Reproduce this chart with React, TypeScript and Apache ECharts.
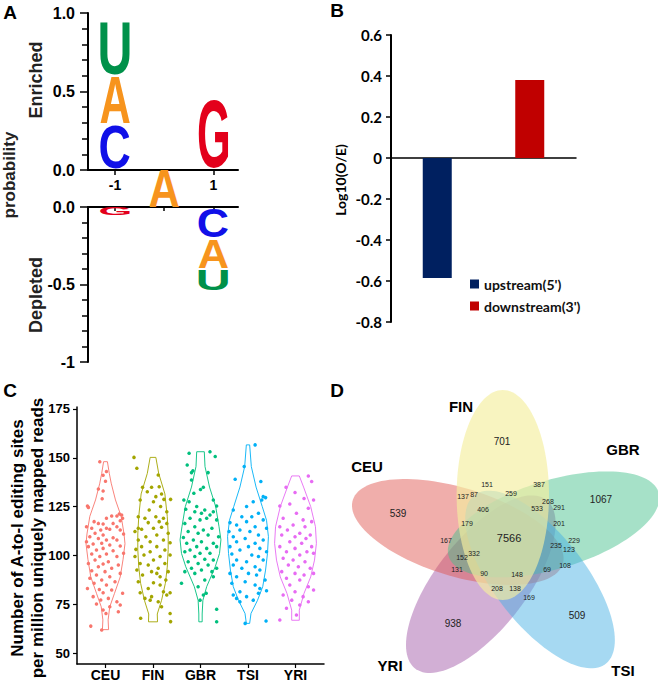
import React, { useEffect, useRef } from "react";
import * as echarts from "echarts";

// ---------------- Panel A : sequence logo ----------------
const LOGO_UP_POS = [-1, -1, -1, 1];
const LOGO_UP_LETTER = ["C", "A", "U", "G"];
const LOGO_UP_HEIGHT = [0.29, 0.31, 0.35, 0.46];
const LOGO_DOWN_POS = [-1, 1, 1, 1];
const LOGO_DOWN_LETTER = ["G", "C", "A", "U"];
const LOGO_DOWN_HEIGHT = [0.055, 0.2, 0.2, 0.14];
const LOGO_SITE_POS = 0;
const LOGO_SITE_LETTER = "A";
const LOGO_SITE_HEIGHT = 0.236;
const LOGO_X_TICKS = [-1, 1];
const LETTER_COLORS: Record<string, string> = { A: "#F7941D", C: "#1010E8", G: "#E3001B", U: "#00914A" };

// ---------------- Panel B : bars ----------------
const B_CATEGORIES = ["upstream(5')", "downstream(3')"];
const B_POSITIONS = [0.5, 1.5];
const B_VALUES = [-0.585, 0.38];
const B_COLORS = ["#002060", "#C00000"];
const B_Y_RANGE = [-0.8, 0.6];

// ---------------- Panel C : violins + jitter ----------------
const GROUPS = ["CEU", "FIN", "GBR", "TSI", "YRI"];
const GROUP_COLORS = ["#F8766D", "#A3A500", "#00BF7D", "#00B0F6", "#E76BF3"];
const C_Y_TICKS = [50, 75, 100, 125, 150, 175];

// [jitter (category units), value]
const CEU_POINTS = [
  [-0.12, 148], [0.02, 143], [-0.05, 141], [0, 138], [-0.15, 134], [-0.05, 133], [-0.07, 129], [-0.38, 125.3],
  [-0.36, 124.6], [0.29, 121.2], [0.34, 120.7], [0.24, 120.2], [0.13, 120.2], [0.36, 119], [0.02, 119], [0.31, 117.8],
  [-0.15, 116.4], [-0.24, 117.3], [-0.05, 116.1], [0.16, 116.4], [-0.4, 114.7], [0.02, 113.9], [0.24, 114.7], [-0.29, 113.9],
  [-0.1, 113], [0.09, 113.4], [0.31, 113], [-0.22, 111.3], [-0.05, 110.5], [0.38, 111], [-0.33, 109.6], [-0.15, 108.7],
  [0.16, 109.1], [0.02, 107.9], [-0.4, 107], [0.24, 107.9], [-0.08, 106.2], [-0.26, 105.8], [0.09, 105.3], [0.31, 104.8],
  [-0.36, 104.5], [-0.05, 103.6], [-0.19, 102.8], [0.16, 102.4], [0.38, 101.1], [-0.29, 100.7], [0.02, 100.7], [-0.12, 99.4],
  [0.24, 99.4], [-0.22, 97.6], [0.06, 96.8], [-0.36, 95.9], [-0.05, 95.6], [0.27, 95.1], [-0.15, 94.2], [0.13, 93.4],
  [-0.29, 92.2], [-0.01, 91.7], [0.31, 90.8], [-0.19, 90], [0.09, 89.1], [-0.33, 88.3], [-0.08, 87.4], [0.2, 86.5],
  [-0.24, 85.7], [0.02, 84.8], [-0.38, 83.1], [-0.13, 82.6], [0.13, 82.3], [-0.05, 80.9], [0.36, 80.6], [-0.26, 78.9],
  [0.06, 78], [-0.1, 77.2], [0.24, 76.3], [-0.19, 75.1], [0.31, 74.6], [0.09, 73.7], [-0.05, 72], [0.27, 71.2],
  [0.01, 70.3], [-0.31, 63.8], [-0.08, 61.8],
];
const FIN_POINTS = [
  [-0.4, 150.2], [-0.34, 144.6], [0.11, 141.2], [-0.22, 134.9], [-0.03, 134.9], [0.13, 135.2], [-0.12, 132.6], [0.18, 131.5],
  [0.06, 130.1], [0.23, 128.7], [-0.27, 128.4], [0.01, 127.5], [0.37, 128.7], [0.16, 125], [-0.08, 123.3], [0.29, 122.4],
  [-0.31, 119.8], [0.06, 119.8], [-0.17, 119], [0.22, 119], [0.13, 117.3], [-0.1, 116.8], [0.29, 116.4], [-0.31, 113.9],
  [-0.24, 113.4], [0.01, 113.9], [0.18, 114.4], [-0.38, 112.2], [0.32, 111.3], [0.08, 110.5], [-0.15, 109.6], [-0.31, 107.9],
  [0.22, 107.9], [-0.06, 107], [0.36, 106.5], [-0.24, 104.5], [0.08, 104.5], [-0.36, 103.1], [0.25, 102.8], [-0.06, 101.9],
  [-0.19, 100.2], [0.15, 99.4], [-0.38, 99.4], [0.36, 100.2], [0.01, 97.6], [-0.27, 95.9], [0.25, 95.9], [-0.1, 95.1],
  [0.11, 93.4], [-0.34, 92.5], [0.32, 91.7], [-0.03, 91.7], [0.08, 90.8], [-0.22, 90], [0.15, 89.1], [0.27, 87.4],
  [-0.31, 86.5], [0.01, 86], [0.15, 84.8], [-0.1, 83.1], [0.22, 81.4], [0.36, 80.9], [-0.27, 80.9], [-0.03, 78.9],
  [0.29, 79.7], [-0.17, 78], [0.11, 76.3], [-0.06, 77.1], [0.18, 73.7], [0.36, 70.3], [-0.26, 67.8], [0.37, 66.1],
];
const GBR_POINTS = [
  [-0.24, 152.3], [0.2, 153.1], [0.31, 150.6], [-0.28, 146.3], [-0.16, 143.4], [-0.19, 142.4], [0.16, 142.4], [-0.19, 138.6],
  [0.06, 134.9], [0, 133.8], [-0.14, 131.8], [0.27, 128.4], [-0.35, 128.4], [-0.24, 127.5], [0.34, 125.3], [-0.08, 125],
  [0.09, 123.3], [-0.31, 123.6], [0.2, 120.7], [0.02, 121.6], [-0.12, 122.4], [0.27, 122.4], [-0.22, 119], [-0.01, 118.2],
  [0.13, 119], [0.34, 118.2], [-0.33, 116.4], [-0.12, 114.7], [0.06, 113], [0.24, 113.9], [-0.26, 112.2], [-0.05, 111.3],
  [0.16, 110.5], [0.38, 109.6], [-0.36, 109.2], [-0.15, 107.9], [0.02, 107], [0.27, 106.2], [-0.29, 106.2], [-0.08, 104.5],
  [0.13, 103.6], [0.34, 104.5], [-0.22, 102.8], [-0.01, 101.1], [0.2, 101.1], [-0.33, 101.9], [-0.12, 99.4], [0.09, 98],
  [0.27, 97.6], [-0.26, 96.8], [-0.05, 95.9], [0.16, 95.1], [-0.19, 93.4], [0.02, 92.5], [0.34, 93.4], [-0.33, 91.7],
  [-0.12, 90.8], [0.24, 91.7], [-0.4, 85.7], [0.09, 87.4], [-0.05, 84], [0.12, 80.6], [0.27, 89.1], [-0.01, 77.1],
  [0.34, 72.4], [0.34, 66], [0.06, 79.7],
];
const TSI_POINTS = [
  [0.15, 156.6], [-0.08, 145.5], [-0.27, 139], [0.27, 137.8], [0.32, 130.1], [0.37, 129.6], [0.11, 127.5], [-0.03, 125],
  [0.29, 128.4], [-0.31, 123.3], [0.22, 121.6], [0.08, 119.8], [-0.13, 119.8], [0.32, 118.2], [-0.38, 116.8], [-0.24, 115.6],
  [-0.03, 117.3], [0.15, 114.7], [0.39, 113.9], [-0.4, 112.2], [-0.17, 113], [0.04, 112.2], [0.22, 110.5], [-0.31, 109.6],
  [-0.06, 108.7], [0.32, 107.9], [-0.24, 107], [0.15, 106.2], [-0.38, 104.5], [0.01, 104.5], [0.25, 103.6], [-0.17, 102.8],
  [0.39, 101.9], [-0.34, 100.7], [0.08, 100.2], [0.22, 99.4], [-0.24, 97.6], [-0.03, 96.8], [0.32, 97.6], [-0.31, 95.1],
  [0.15, 94.2], [-0.13, 93.4], [0.25, 92.5], [-0.38, 90.8], [0.01, 90.8], [0.18, 90], [-0.24, 89.1], [0.36, 87.4],
  [-0.06, 86.5], [-0.34, 85.7], [0.15, 84.8], [0.25, 83.1], [-0.17, 81.4], [0.39, 81.9], [0.22, 80.6], [-0.03, 78.9],
  [-0.24, 78], [0.11, 77.1], [-0.17, 76.3], [-0.06, 65.2], [0.38, 66.4], [-0.31, 79.7],
];
const YRI_POINTS = [
  [0.27, 140.7], [-0.2, 134.9], [0.34, 137.8], [-0.01, 132.2], [-0.33, 125.3], [0.18, 129.2], [0.38, 128.4], [-0.12, 126.3],
  [0.27, 124.1], [0.02, 121.6], [-0.26, 119], [0.16, 118.2], [0.34, 117.3], [-0.33, 114.7], [-0.05, 115.6], [0.2, 114.7],
  [-0.17, 113], [0.09, 111.3], [0.31, 110.5], [-0.29, 110.5], [-0.01, 109.6], [0.22, 108.7], [-0.12, 107], [0.13, 106.2],
  [0.34, 104.5], [-0.33, 104.5], [-0.01, 103.6], [-0.19, 101.9], [0.24, 101.9], [0.09, 100.2], [0.38, 101.1], [-0.26, 98.5],
  [-0.05, 97.6], [0.2, 96.8], [-0.15, 95.1], [0.06, 94.2], [0.31, 93.4], [-0.29, 91.7], [-0.01, 90.8], [0.18, 90],
  [0.38, 90.8], [-0.19, 88.3], [0.09, 87.4], [-0.12, 84.8], [0.27, 84], [-0.01, 81.4], [-0.26, 79.7], [0.16, 78.9],
  [0.38, 82.3], [-0.08, 77.1], [0.09, 74.6], [-0.19, 72.9], [0.27, 76.3], [-0.33, 66.9], [0.02, 69.5],
];
const GROUP_POINTS = [CEU_POINTS, FIN_POINTS, GBR_POINTS, TSI_POINTS, YRI_POINTS];

// violin outline: [value, half width (category units)], bottom -> top
const CEU_VIOLIN = [[62, 0.065], [67, 0.055], [73.7, 0.09], [80.6, 0.19], [89, 0.31], [98, 0.37], [106, 0.41], [111, 0.39], [120, 0.33], [128.4, 0.21], [137, 0.12], [142, 0.08], [148, 0.04]];
const FIN_VIOLIN = [[66, 0.095], [70, 0.09], [77, 0.18], [85.7, 0.26], [94, 0.3], [103, 0.32], [111, 0.32], [120, 0.3], [131.5, 0.25], [142, 0.12], [150.2, 0.06]];
const GBR_VIOLIN = [[66, 0.035], [70, 0.035], [77, 0.05], [84, 0.13], [94.2, 0.31], [101, 0.4], [108, 0.43], [114.7, 0.39], [125, 0.32], [135, 0.19], [145.5, 0.095], [153.1, 0.08]];
const TSI_VIOLIN = [[65.2, 0.035], [70.3, 0.063], [77, 0.2], [84, 0.31], [92.5, 0.37], [101, 0.41], [109.6, 0.43], [118, 0.39], [125, 0.3], [135, 0.17], [145.5, 0.07], [156.6, 0.035]];
const YRI_VIOLIN = [[66.8, 0.08], [72, 0.08], [80.6, 0.18], [89, 0.32], [97.6, 0.4], [106.2, 0.44], [114.7, 0.42], [125, 0.32], [135, 0.17], [140.7, 0.08]];
const GROUP_VIOLINS = [CEU_VIOLIN, FIN_VIOLIN, GBR_VIOLIN, TSI_VIOLIN, YRI_VIOLIN];

// ---------------- Panel D : 5-set Venn ----------------
const VENN_SETS = ["CEU", "FIN", "GBR", "TSI", "YRI"];
const VENN_FILLS = ["#E0564F", "#F5EFA0", "#45C08D", "#45B0E3", "#A058A8"];
const VENN_ROTATION_DEG = [288, 0, 72, 144, 216];
const VENN_DRAW_ORDER = [4, 0, 2, 3, 1];
const VENN_COUNTS = [
  "701", "1067", "539", "938", "509", "7566", "151", "387", "137", "87", "259", "268", "291", "406", "533", "179",
  "201", "167", "235", "229", "123", "152", "332", "131", "90", "148", "69", "108", "208", "138", "169",
];
// layout (venn-space coordinates of each count label)
const VENN_COUNT_POS = [
  [-4.8, -102], [89.5, -44], [-103.8, -30], [-51.4, 80], [66.7, 72], [1.9, -5], [-19, -59], [30.5, -59], [-41.9, -47],
  [-31.4, -49], [3.8, -50], [39, -42], [49.5, -36], [-22.9, -34], [28.6, -35], [-38.1, -20], [49.5, -20], [-58.1, -3],
  [46.7, 2], [63.8, -3], [59, 6], [-42.9, 14], [-31.4, 10], [-47.6, 26], [-21.9, 30], [9.5, 31], [38.1, 26], [55.2, 22],
  [-9.5, 45], [7.6, 45], [21, 54],
];
const VENN_SET_LABEL_POS = [[-133.3, -77], [-43.8, -137], [110.5, -94], [110.5, 127], [-111.4, 122]];
const VENN_ELLIPSE = { offU: -4, offW: -48, semiU: 44, semiW: 105 };

const SANS = "Liberation Sans";

let measureCtx: CanvasRenderingContext2D | null = null;
const glyphCache: Record<string, any> = {};
function glyph(ch: string) {
  if (glyphCache[ch]) return glyphCache[ch];
  if (!measureCtx) measureCtx = document.createElement("canvas").getContext("2d");
  const ctx = measureCtx as CanvasRenderingContext2D;
  ctx.font = `bold 100px "${SANS}"`;
  const m = ctx.measureText(ch);
  const g = {
    left: m.actualBoundingBoxLeft,
    right: m.actualBoundingBoxRight,
    asc: m.actualBoundingBoxAscent,
    desc: m.actualBoundingBoxDescent,
    fa: (m as any).fontBoundingBoxAscent ?? 90.5,
    fd: (m as any).fontBoundingBoxDescent ?? 21.2,
  };
  glyphCache[ch] = g;
  return g;
}

function letterEl(api: any, ch: string, x0: number, x1: number, yA: number, yB: number, fill: number) {
  const pA = api.coord([x0, yA]);
  const pB = api.coord([x1, yB]);
  const left = Math.min(pA[0], pB[0]);
  const right = Math.max(pA[0], pB[0]);
  const top = Math.min(pA[1], pB[1]);
  const bottom = Math.max(pA[1], pB[1]);
  const h = (bottom - top) * fill;
  const w = right - left;
  const cx = (left + right) / 2;
  const cy = (top + bottom) / 2;
  const g = glyph(ch);
  const sx = w / (g.left + g.right);
  const sy = h / (g.asc + g.desc);
  const inkCx = (g.right - g.left) / 2;
  const central = (g.fa - g.fd) / 2;
  const inkCy = central + (g.desc - g.asc) / 2;
  return {
    type: "text",
    x: cx - sx * inkCx,
    y: cy - sy * inkCy,
    scaleX: sx,
    scaleY: sy,
    style: {
      text: ch,
      x: 0,
      y: 0,
      fill: LETTER_COLORS[ch],
      fontSize: 100,
      fontWeight: "bold",
      fontFamily: SANS,
      align: "left",
      verticalAlign: "middle",
    },
  };
}

function stackLetters(pos: number[], heights: number[], sign: number) {
  const acc: Record<string, number> = {};
  return pos.map((p, i) => {
    const s = acc[p] || 0;
    acc[p] = s + heights[i];
    return [p, sign * s, sign * (s + heights[i])];
  });
}

const LETTER_W = 0.6;

export default function App() {
  const ref = useRef<HTMLDivElement>(null);
  useEffect(() => {
    document.body.style.margin = "0";
    if (!ref.current) return;
    const chart = echarts.init(ref.current, undefined, { renderer: "svg" });

    const upItems = stackLetters(LOGO_UP_POS, LOGO_UP_HEIGHT, 1);
    const upLetters = [...LOGO_UP_LETTER];
    upItems.push([LOGO_SITE_POS, 0, -LOGO_SITE_HEIGHT]);
    upLetters.push(LOGO_SITE_LETTER);
    const downItems = stackLetters(LOGO_DOWN_POS, LOGO_DOWN_HEIGHT, -1);

    const axisBlack = { color: "#000", width: 2 };
    const boldSans = (size: number) => ({ fontFamily: SANS, fontWeight: "bold", fontSize: size, color: "#000" });
    const lato = (size: number) => ({ fontFamily: "Lato", fontWeight: "bold", fontSize: size, color: "#000" });

    const option: any = {
      animation: false,
      textStyle: { fontFamily: SANS },
      grid: [
        { left: 88, top: 13, width: 150, height: 157 },
        { left: 88, top: 207, width: 150, height: 155 },
        { left: 391, top: 35, width: 185, height: 287 },
        { left: 77, top: 407, width: 247, height: 257 },
        { left: 330, top: 330, width: 328, height: 353 },
      ],
      xAxis: [
        {
          gridIndex: 0, type: "value", min: -1.55, max: 1.5,
          axisLine: { onZero: false, lineStyle: axisBlack },
          axisTick: { customValues: LOGO_X_TICKS, length: 5, lineStyle: { color: "#000", width: 1.5 } },
          axisLabel: { customValues: LOGO_X_TICKS, margin: 8, ...boldSans(14) },
          splitLine: { show: false },
        },
        {
          gridIndex: 1, type: "value", min: -1.55, max: 1.5, position: "top",
          axisLine: { onZero: false, lineStyle: axisBlack },
          axisTick: { customValues: [-1, 0, 1], inside: true, length: 4, lineStyle: { color: "#000", width: 1.5 } },
          axisLabel: { show: false },
          splitLine: { show: false },
        },
        {
          gridIndex: 2, type: "value", min: 0, max: 2,
          axisLine: { show: true, onZero: true, lineStyle: { color: "#000", width: 1.5 } },
          axisTick: { show: false }, axisLabel: { show: false }, splitLine: { show: false },
        },
        {
          gridIndex: 3, type: "value", min: 0.4, max: 5.6,
          axisLine: { onZero: false, lineStyle: { color: "#000", width: 1.5 } },
          axisTick: { customValues: [1, 2, 3, 4, 5], length: 4, lineStyle: { color: "#000", width: 1.2 } },
          axisLabel: { customValues: [1, 2, 3, 4, 5], margin: 4, formatter: (v: number) => GROUPS[Math.round(v) - 1], ...boldSans(14) },
          splitLine: { show: false },
        },
        { gridIndex: 4, type: "value", min: -168.6, max: 143.8, show: false, splitLine: { show: false } },
      ],
      yAxis: [
        {
          gridIndex: 0, type: "value", min: 0, max: 1, interval: 0.5,
          axisLine: { show: true, onZero: false, lineStyle: axisBlack },
          axisTick: { show: true, length: 8, lineStyle: { color: "#000", width: 1.5 } },
          minorTick: { show: true, splitNumber: 5, length: 6, lineStyle: { color: "#000", width: 1.5 } },
          axisLabel: { formatter: (v: number) => v.toFixed(1), margin: 13, ...boldSans(16) },
          splitLine: { show: false },
        },
        {
          gridIndex: 1, type: "value", min: -1, max: 0, interval: 0.5,
          axisLine: { show: true, onZero: false, lineStyle: axisBlack },
          axisTick: { show: true, length: 8, lineStyle: { color: "#000", width: 1.5 } },
          minorTick: { show: true, splitNumber: 5, length: 6, lineStyle: { color: "#000", width: 1.5 } },
          axisLabel: { formatter: (v: number) => (v === -1 ? "-1" : v.toFixed(1)), margin: 13, ...boldSans(16) },
          splitLine: { show: false },
        },
        {
          gridIndex: 2, type: "value", min: B_Y_RANGE[0], max: B_Y_RANGE[1], interval: 0.2,
          axisLine: { show: true, onZero: false, lineStyle: { color: "#000", width: 2 } },
          axisTick: { show: true, length: 5, lineStyle: { color: "#000", width: 1.5 } },
          axisLabel: { margin: 9, formatter: (v: number) => String(Math.round(v * 10) / 10), ...lato(15) },
          splitLine: { show: false },
        },
        {
          gridIndex: 3, type: "value", min: 44.4, max: 176,
          axisLine: { show: true, onZero: false, lineStyle: { color: "#000", width: 1.5 } },
          axisTick: { show: true, customValues: C_Y_TICKS, length: 4, lineStyle: { color: "#000", width: 1.2 } },
          axisLabel: { customValues: C_Y_TICKS, margin: 7, ...boldSans(13) },
          splitLine: { show: false },
        },
        { gridIndex: 4, type: "value", min: -213, max: 140, inverse: true, show: false, splitLine: { show: false } },
      ],
      legend: {
        data: B_CATEGORIES,
        orient: "vertical",
        left: 465,
        top: 272,
        icon: "rect",
        itemWidth: 9,
        itemHeight: 9,
        itemGap: 8,
        textStyle: { ...lato(14), color: "#111" },
      },
      graphic: [
        { type: "text", x: 10, y: 12, style: { text: "A", align: "center", verticalAlign: "middle", font: `bold 19px "${SANS}"`, fill: "#000" } },
        { type: "text", x: 337, y: 10, style: { text: "B", align: "center", verticalAlign: "middle", font: `bold 19px "${SANS}"`, fill: "#000" } },
        { type: "text", x: 10, y: 390, style: { text: "C", align: "center", verticalAlign: "middle", font: `bold 19px "${SANS}"`, fill: "#000" } },
        { type: "text", x: 337, y: 390, style: { text: "D", align: "center", verticalAlign: "middle", font: `bold 19px "${SANS}"`, fill: "#000" } },
        { type: "text", x: 36, y: 80, rotation: Math.PI / 2, style: { text: "Enriched", align: "center", verticalAlign: "middle", font: `bold 18px "${SANS}"`, fill: "#222" } },
        { type: "text", x: 36, y: 295, rotation: Math.PI / 2, style: { text: "Depleted", align: "center", verticalAlign: "middle", font: `bold 18px "${SANS}"`, fill: "#222" } },
        { type: "text", x: 9, y: 175, rotation: Math.PI / 2, style: { text: "probability", align: "center", verticalAlign: "middle", font: `bold 17px "${SANS}"`, fill: "#222" } },
        { type: "text", x: 340, y: 180, rotation: Math.PI / 2, style: { text: "Log10(O/E)", align: "center", verticalAlign: "middle", font: `bold 14px "Lato"`, fill: "#000" } },
        {
          type: "text", x: 27, y: 538, rotation: Math.PI / 2,
          style: { text: "Number of A-to-I editing sites\nper million uniquely mapped reads", align: "center", verticalAlign: "middle", font: `bold 17px "${SANS}"`, lineHeight: 20, fill: "#000" },
        },
      ],
      series: [
        {
          type: "custom", xAxisIndex: 0, yAxisIndex: 0, silent: true,
          data: upItems,
          renderItem: (params: any, api: any) => {
            const it = upItems[params.dataIndex];
            return letterEl(api, upLetters[params.dataIndex], it[0] - LETTER_W / 2, it[0] + LETTER_W / 2, it[1], it[2], params.dataIndex === upItems.length - 1 ? 1 : 0.95);
          },
        },
        {
          type: "custom", xAxisIndex: 1, yAxisIndex: 1, silent: true,
          data: downItems,
          renderItem: (params: any, api: any) => {
            const it = downItems[params.dataIndex];
            return letterEl(api, LOGO_DOWN_LETTER[params.dataIndex], it[0] - LETTER_W / 2, it[0] + LETTER_W / 2, it[1], it[2], 0.93);
          },
        },
        ...B_CATEGORIES.map((name, i) => ({
          name, type: "bar", xAxisIndex: 2, yAxisIndex: 2, barWidth: 29, barGap: "-100%",
          data: [[B_POSITIONS[i], B_VALUES[i]]], itemStyle: { color: B_COLORS[i] },
        })),
        {
          type: "custom", xAxisIndex: 3, yAxisIndex: 3, silent: true,
          data: GROUPS.map((_, i) => [i + 1, 100]),
          renderItem: (params: any, api: any) => {
            const i = params.dataIndex;
            const v = GROUP_VIOLINS[i];
            const pts: number[][] = [];
            v.forEach((p) => pts.push(api.coord([i + 1 + p[1], p[0]])));
            for (let k = v.length - 1; k >= 0; k--) pts.push(api.coord([i + 1 - v[k][1], v[k][0]]));
            return { type: "polygon", shape: { points: pts }, style: { fill: "none", stroke: GROUP_COLORS[i], lineWidth: 0.9 } };
          },
        },
        ...GROUPS.map((g, i) => ({
          name: g, type: "scatter", xAxisIndex: 3, yAxisIndex: 3, symbolSize: 3.5, silent: true,
          itemStyle: { color: GROUP_COLORS[i], opacity: 1 },
          data: GROUP_POINTS[i].map((p) => [i + 1 + p[0], p[1]]),
        })),
        {
          type: "custom", xAxisIndex: 4, yAxisIndex: 4, silent: true,
          data: VENN_DRAW_ORDER.map((k) => [k, 0]),
          renderItem: (params: any, api: any) => {
            const k = VENN_DRAW_ORDER[params.dataIndex];
            const th = (VENN_ROTATION_DEG[k] * Math.PI) / 180;
            const c = Math.cos(th), s = Math.sin(th);
            const pts: number[][] = [];
            for (let j = 0; j < 120; j++) {
              const t = (j / 120) * Math.PI * 2;
              const x = VENN_ELLIPSE.offU + VENN_ELLIPSE.semiU * Math.cos(t);
              const y = VENN_ELLIPSE.offW + VENN_ELLIPSE.semiW * Math.sin(t);
              pts.push(api.coord([c * x - s * y, s * x + c * y]));
            }
            return { type: "polygon", shape: { points: pts }, style: { fill: VENN_FILLS[k], opacity: k === 1 ? 0.66 : 0.48 } };
          },
        },
        {
          type: "custom", xAxisIndex: 4, yAxisIndex: 4, silent: true,
          data: VENN_COUNTS.map((c, i) => [VENN_COUNT_POS[i][0], VENN_COUNT_POS[i][1]]),
          renderItem: (params: any, api: any) => {
            const i = params.dataIndex;
            const p = api.coord(VENN_COUNT_POS[i]);
            const size = i < 5 ? 10 : i === 5 ? 11 : 7;
            return { type: "text", x: p[0], y: p[1], style: { text: VENN_COUNTS[i], align: "center", verticalAlign: "middle", fontSize: size, fontFamily: SANS, fill: "#222" } };
          },
        },
        {
          type: "custom", xAxisIndex: 4, yAxisIndex: 4, silent: true,
          data: VENN_SETS.map((s, i) => [VENN_SET_LABEL_POS[i][0], VENN_SET_LABEL_POS[i][1]]),
          renderItem: (params: any, api: any) => {
            const i = params.dataIndex;
            const p = api.coord(VENN_SET_LABEL_POS[i]);
            return { type: "text", x: p[0], y: p[1], style: { text: VENN_SETS[i], align: "center", verticalAlign: "middle", fontSize: 15, fontWeight: "bold", fontFamily: SANS, fill: "#000" } };
          },
        },
      ],
    };
    chart.setOption(option);
    return () => chart.dispose();
  }, []);
  return <div ref={ref} style={{ width: 658, height: 683 }} />;
}
